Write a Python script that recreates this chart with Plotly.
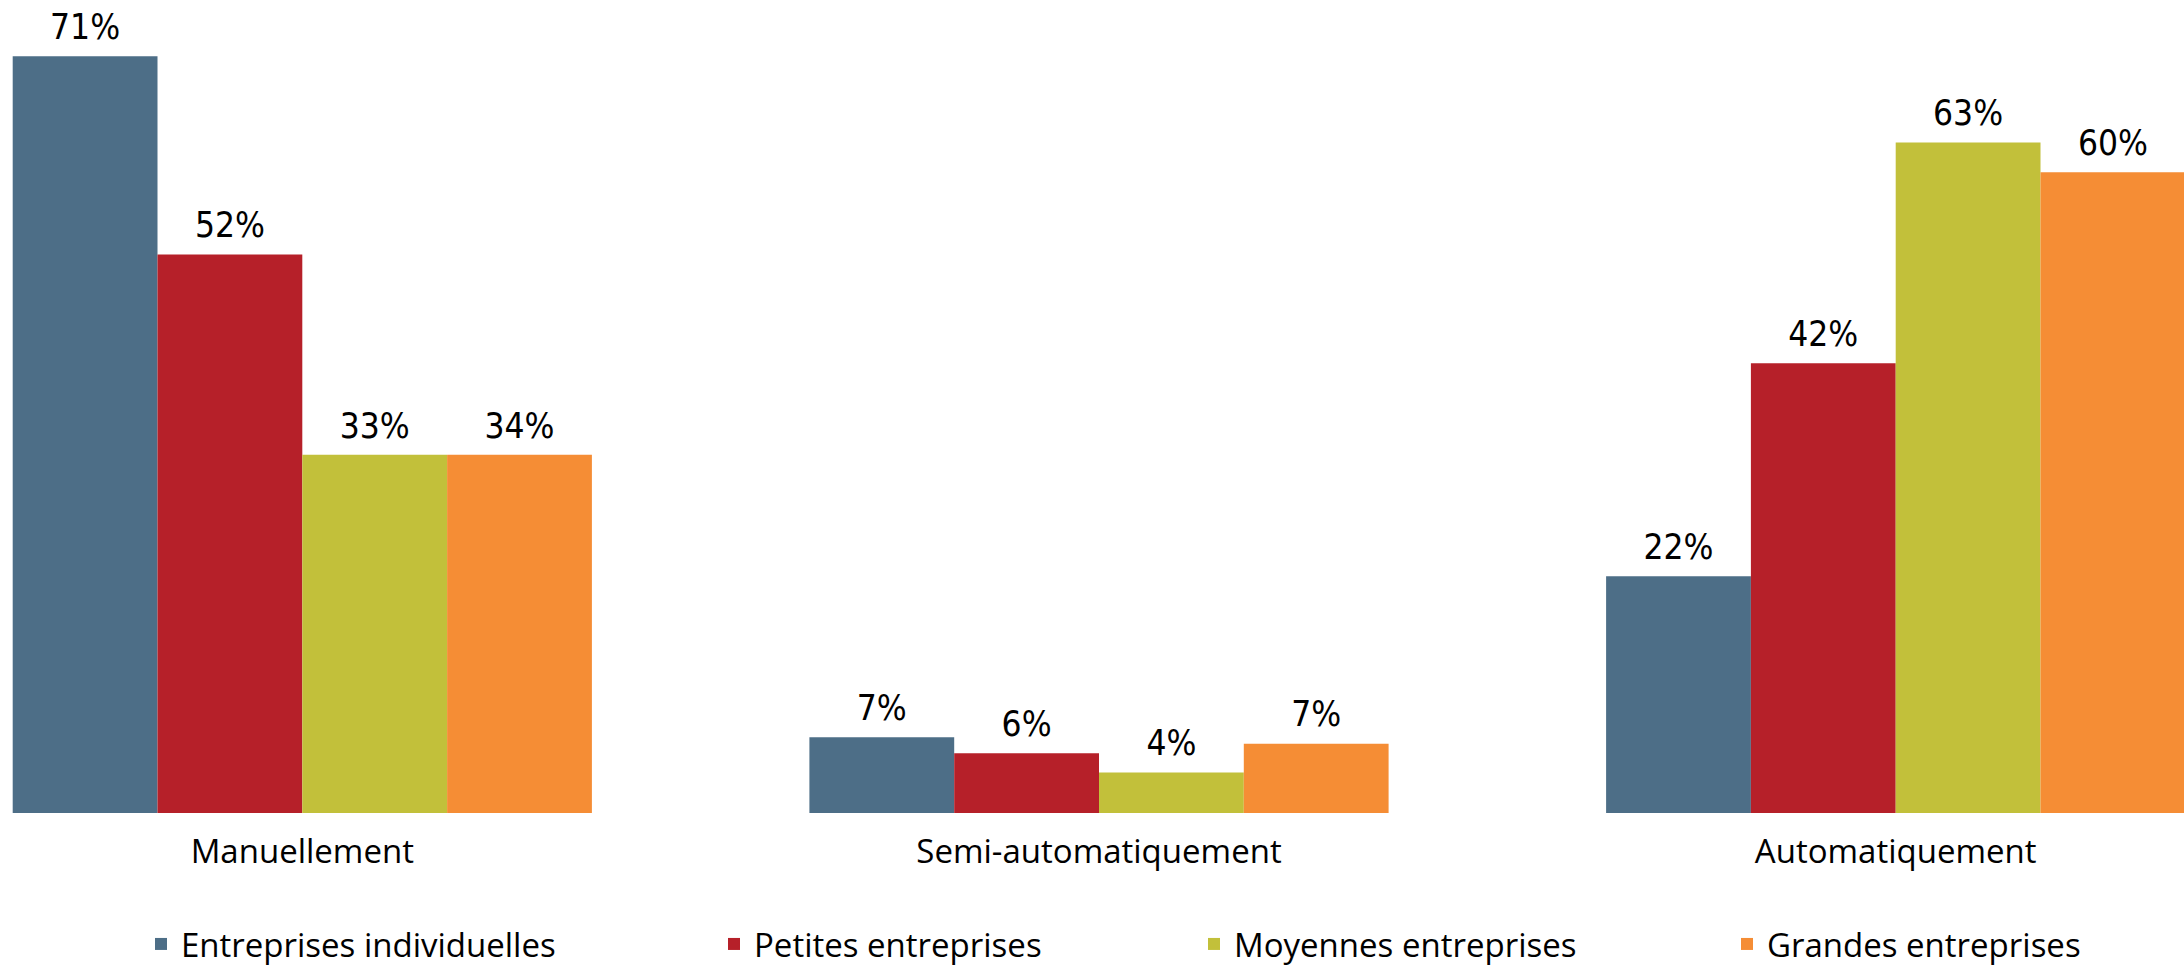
import plotly.graph_objects as go

categories = ["Manuellement", "Semi-automatiquement", "Automatiquement"]
series_names = ["Entreprises individuelles", "Petites entreprises", "Moyennes entreprises", "Grandes entreprises"]
# bar heights
entreprises_individuelles = [71.0, 7.1, 22.2]
petites_entreprises = [52.4, 5.6, 42.2]
moyennes_entreprises = [33.6, 3.8, 62.9]
grandes_entreprises = [33.6, 6.5, 60.1]
# printed data labels
labels_individuelles = ["71%", "7%", "22%"]
labels_petites = ["52%", "6%", "42%"]
labels_moyennes = ["33%", "4%", "63%"]
labels_grandes = ["34%", "7%", "60%"]
series_values = [entreprises_individuelles, petites_entreprises, moyennes_entreprises, grandes_entreprises]
series_labels = [labels_individuelles, labels_petites, labels_moyennes, labels_grandes]
colors = ["#4D6E87", "#B62029", "#C2C03A", "#F58D35"]

W, H = 2184, 966
MB = 153
legend_x_px = [141, 714, 1194, 1727]

label_font = "Liberation Sans Narrow, Arial Narrow, DejaVu Sans Condensed, sans-serif"
text_font = "Open Sans, Noto Sans, sans-serif"

fig = go.Figure()
for i, (name, vals, col) in enumerate(zip(series_names, series_values, colors)):
    lg = "legend" if i == 0 else f"legend{i+1}"
    fig.add_trace(go.Bar(
        x=categories, y=vals, name=name, marker=dict(color=col, line=dict(width=0)),
        offsetgroup=str(i), legend=lg, hoverinfo="skip",
    ))
for i, (vals, labs) in enumerate(zip(series_values, series_labels)):
    fig.add_trace(go.Scatter(
        x=categories, y=vals, mode="markers+text", text=labs,
        textposition="top center", offsetgroup=str(i), showlegend=False,
        marker=dict(size=12, color="rgba(0,0,0,0)"), hoverinfo="skip", cliponaxis=False,
        textfont=dict(family=label_font, size=35, color="#000000"),
    ))

unit = 796.7
r0 = -302.3 / unit
r1 = r0 + W / unit
plot_h = H - MB
ymax = plot_h / 10.66

layout_legends = {}
for i in range(4):
    key = "legend" if i == 0 else f"legend{i+1}"
    layout_legends[key] = dict(
        x=legend_x_px[i] / W, xref="paper", xanchor="left",
        y=22 / H, yref="container", yanchor="middle",
        orientation="h", bgcolor="rgba(0,0,0,0)",
        font=dict(family=text_font, size=33, color="#000000"),
    )

fig.update_layout(
    width=W, height=H,
    margin=dict(l=0, r=0, t=0, b=MB, autoexpand=False),
    paper_bgcolor="white", plot_bgcolor="white",
    barmode="group", bargap=0.273, bargroupgap=0,
    scattermode="group", scattergap=0.273,
    xaxis=dict(range=[r0, r1], showgrid=False, zeroline=False, showline=False, ticks="",
               automargin=False,
               tickfont=dict(family=text_font, size=33, color="#000000"), ticklabelstandoff=16),
    yaxis=dict(range=[0, ymax], visible=False, showgrid=False, zeroline=False),
    showlegend=True,
    **layout_legends,
)
fig.write_html("out.html", config={"displayModeBar": False},
               post_script="document.body.style.margin='0';document.body.style.overflow='hidden';")
